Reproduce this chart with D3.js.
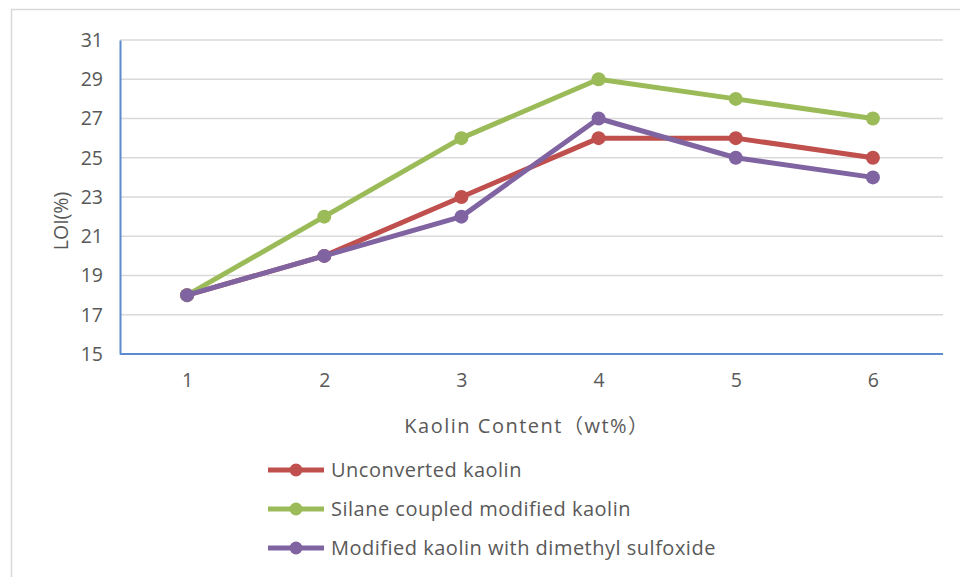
<!DOCTYPE html>
<html>
<head>
<meta charset="utf-8">
<title>LOI</title>
<script src="https://cdn.jsdelivr.net/npm/d3@7"></script>
<style>
  body { margin: 0; background: #fff; }
  text { font-family: "Open Sans", "Noto Sans CJK SC", sans-serif; fill: #595959; }
</style>
</head>
<body>
<script>
var categories = ["1", "2", "3", "4", "5", "6"];
var yTicks = [15, 17, 19, 21, 23, 25, 27, 29, 31];
var seriesNames = ["Unconverted kaolin", "Silane coupled modified kaolin", "Modified kaolin with dimethyl sulfoxide"];
var unconverted = [18, 20, 23, 26, 26, 25];
var silane = [18, 22, 26, 29, 28, 27];
var dmso = [18, 20, 22, 27, 25, 24];
var colors = ["#c0504d", "#9bbb59", "#8064a2"];

var width = 960, height = 577;
var plotLeft = 120, plotRight = 943, plotTop = 40, plotBottom = 354;

var svg = d3.select("body").append("svg")
    .attr("width", width)
    .attr("height", height);

// outer chart border
svg.append("rect")
    .attr("x", 11.5).attr("y", 9.5)
    .attr("width", 960).attr("height", 580)
    .attr("fill", "none")
    .attr("stroke", "#d9d9d9")
    .attr("stroke-width", 1.5);

var x = d3.scalePoint().domain(categories).range([plotLeft - 1.5, plotRight - 1.5]).padding(0.5);
var y = d3.scaleLinear().domain([15, 31]).range([plotBottom, plotTop]);

// gridlines
svg.append("g").selectAll("line")
    .data(yTicks.slice(1))
    .enter().append("line")
    .attr("x1", plotLeft).attr("x2", plotRight)
    .attr("y1", function (d) { return y(d); })
    .attr("y2", function (d) { return y(d); })
    .attr("stroke", "#d9d9d9")
    .attr("stroke-width", 1.5);

// axes
var yAxis = svg.append("g")
    .attr("transform", "translate(" + plotLeft + ",0)")
    .call(d3.axisLeft(y).tickValues(yTicks).tickSize(0).tickPadding(17));
yAxis.select(".domain").attr("stroke", "#5b8ccf").attr("stroke-width", 2);
yAxis.selectAll("text").attr("font-size", 19.5).style("fill", "#595959")
    .style("font-family", "'Open Sans', sans-serif");

var xAxis = svg.append("g")
    .attr("transform", "translate(0," + plotBottom + ")")
    .call(d3.axisBottom(x).tickSize(0).tickPadding(19));
xAxis.select(".domain").attr("stroke", "#5b8ccf").attr("stroke-width", 2)
    .attr("d", "M" + plotLeft + ",0H" + plotRight);
xAxis.selectAll("text").attr("font-size", 19.5).style("fill", "#595959")
    .style("font-family", "'Open Sans', sans-serif");

// axis titles
svg.append("text")
    .attr("x", 527)
    .attr("y", 433)
    .attr("text-anchor", "middle")
    .attr("font-size", 20)
    .attr("letter-spacing", 1.5)
    .text("Kaolin Content（wt%）");

svg.append("text")
    .attr("transform", "translate(68,221) rotate(-90)")
    .attr("text-anchor", "middle")
    .attr("font-size", 19.5)
    .text("LOI(%)");

// series
var allSeries = [unconverted, silane, dmso];
var line = d3.line()
    .x(function (d, i) { return x(categories[i]); })
    .y(function (d) { return y(d); });

allSeries.forEach(function (vals, k) {
    var g = svg.append("g");
    g.append("path")
        .attr("d", line(vals))
        .attr("fill", "none")
        .attr("stroke", colors[k])
        .attr("stroke-width", 5)
        .attr("stroke-linejoin", "round");
    g.selectAll("circle")
        .data(vals)
        .enter().append("circle")
        .attr("cx", function (d, i) { return x(categories[i]); })
        .attr("cy", function (d) { return y(d); })
        .attr("r", 7)
        .attr("fill", colors[k]);
});

// legend
var legend = svg.append("g").selectAll("g")
    .data(seriesNames)
    .enter().append("g")
    .attr("transform", function (d, i) { return "translate(268," + (470 + i * 39) + ")"; });
legend.append("line")
    .attr("x1", 0).attr("x2", 56)
    .attr("stroke", function (d, i) { return colors[i]; })
    .attr("stroke-width", 5);
legend.append("circle")
    .attr("cx", 28).attr("r", 6.5)
    .attr("fill", function (d, i) { return colors[i]; });
legend.append("text")
    .attr("x", 63)
    .attr("dy", "0.35em")
    .attr("font-size", 20)
    .attr("letter-spacing", 0.5)
    .text(function (d) { return d; });
</script>
</body>
</html>
